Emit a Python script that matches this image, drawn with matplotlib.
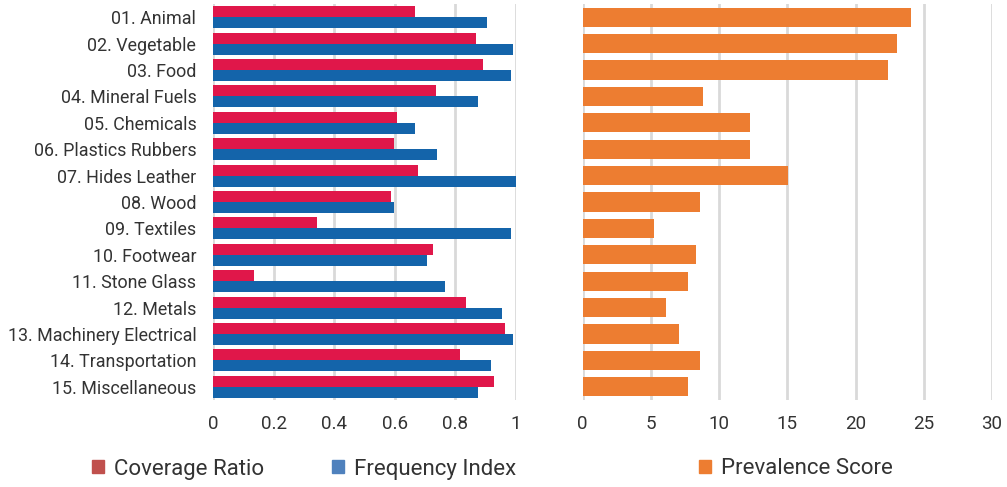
import matplotlib
matplotlib.use("Agg")
import matplotlib.pyplot as plt
from matplotlib.patches import Patch
import numpy as np

categories = ["01. Animal", "02. Vegetable", "03. Food", "04. Mineral Fuels", "05. Chemicals",
              "06. Plastics Rubbers", "07. Hides Leather", "08. Wood", "09. Textiles",
              "10. Footwear", "11. Stone Glass", "12. Metals", "13. Machinery Electrical",
              "14. Transportation", "15. Miscellaneous"]
coverage_ratio = [0.667, 0.868, 0.891, 0.736, 0.607, 0.597, 0.677, 0.587, 0.343,
                  0.726, 0.135, 0.835, 0.964, 0.815, 0.927]
frequency_index = [0.904, 0.990, 0.983, 0.875, 0.667, 0.739, 1.0, 0.597, 0.983,
                   0.706, 0.766, 0.954, 0.990, 0.917, 0.875]
prevalence_score = [24.07, 23.04, 22.38, 8.82, 12.27, 12.27, 15.05, 8.6, 5.23,
                    8.3, 7.72, 6.1, 7.06, 8.6, 7.72]
left_ticks = [0, 0.2, 0.4, 0.6, 0.8, 1]
left_ticklabels = ["0", "0.2", "0.4", "0.6", "0.8", "1"]
right_ticks = [0, 5, 10, 15, 20, 25, 30]

plt.rcParams['font.family'] = ['Roboto', 'DejaVu Sans']

RED = "#e0174a"
BLUE = "#1464aa"
ORANGE = "#ed7d31"
GRID = "#d9d9d9"
TXT = "#333333"

fig = plt.figure(figsize=(10.07, 4.87), dpi=100)
W, H = 1007, 487
top_px, bot_px = 4, 400
ax1 = fig.add_axes([213 / W, 1 - bot_px / H, (516 - 213) / W, (bot_px - top_px) / H])
ax2 = fig.add_axes([582.7 / W, 1 - bot_px / H, (992 - 582.7) / W, (bot_px - top_px) / H])

y = np.arange(len(categories))
h = 0.42
ax1.barh(y - h / 2, coverage_ratio, height=h, color=RED, zorder=3)
ax1.barh(y + h / 2, frequency_index, height=h, color=BLUE, zorder=3)
ax2.barh(y, prevalence_score, height=0.72, color=ORANGE, zorder=3)

for ax in (ax1, ax2):
    ax.set_ylim(len(categories) - 0.5, -0.5)
    for s in ax.spines.values():
        s.set_visible(False)
    ax.grid(axis='x', color=GRID, linewidth=2, zorder=0)
    ax.tick_params(axis='both', length=0, colors=TXT, labelsize=13.5, pad=11)

ax1.set_xlim(0, 1)
ax1.set_xticks(left_ticks)
ax1.set_xticklabels(left_ticklabels)
ax1.set_yticks(y)
ax1.set_yticklabels(categories, fontsize=12.9)
ax1.tick_params(axis='y', pad=12)

ax2.set_xlim(0, 30)
ax2.set_xticks(right_ticks)
ax2.set_yticks([])

leg_kw = dict(frameon=False, fontsize=16, handlelength=0.55, handleheight=0.55,
              handletextpad=0.45, labelcolor=TXT, borderaxespad=0, borderpad=0)
handles = [Patch(color="#c0504d", label="Coverage Ratio"),
           Patch(color="#4f81bd", label="Frequency Index")]
fig.legend(handles=handles, loc='center left', bbox_to_anchor=(92 / W, 1 - 469 / H),
           ncol=2, columnspacing=3.05, **leg_kw)
fig.legend(handles=[Patch(color=ORANGE, label="Prevalence Score")], loc='center left',
           bbox_to_anchor=(699 / W, 1 - 469 / H), **leg_kw)

fig.savefig("out.png", dpi=100)
